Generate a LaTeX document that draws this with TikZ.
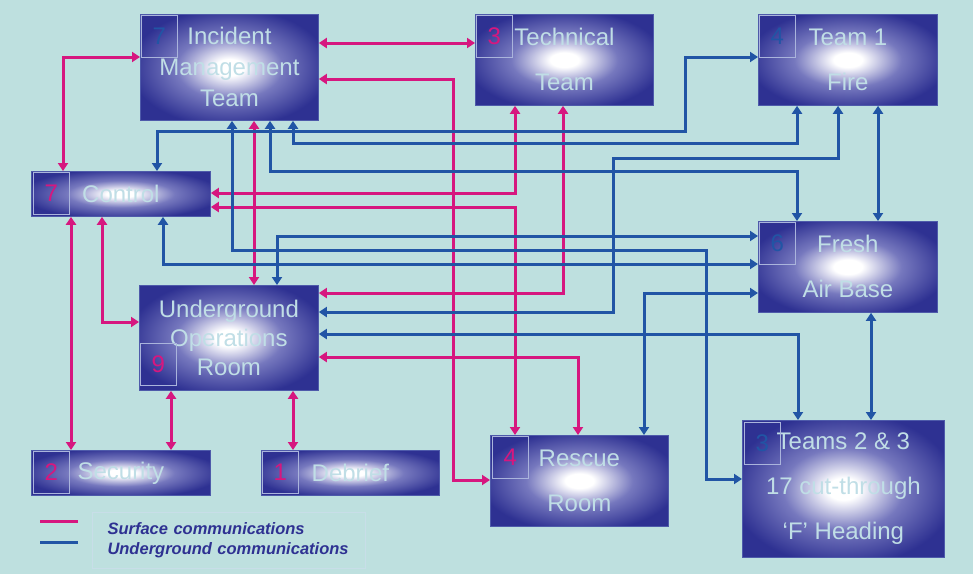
\documentclass[tikz,border=0pt]{standalone}
\usepackage{fontspec}
\setmainfont{Liberation Sans}
\usetikzlibrary{arrows.meta}
\definecolor{sea}{RGB}{190,224,223}
\definecolor{navy}{RGB}{46,49,146}
\definecolor{haze}{RGB}{118,120,190}
\definecolor{pinkline}{RGB}{214,23,127}
\definecolor{blueline}{RGB}{33,85,165}
\definecolor{paletext}{RGB}{192,222,230}
\definecolor{rim}{RGB}{78,90,170}
\definecolor{tagrim}{RGB}{170,180,220}
\definecolor{keyrim}{RGB}{200,222,232}
\pgfdeclareradialshading{glow}{\pgfpoint{0bp}{0bp}}{color(0bp)=(white); color(4bp)=(white); color(15bp)=(haze); color(28bp)=(navy); color(50bp)=(navy)}

\begin{document}
\begin{tikzpicture}[x=1pt, y=-1pt,
  >={Triangle[length=8pt,width=10pt]},
  unit/.style={anchor=north west, shade, shading=glow, draw=rim, line width=0.8pt, inner sep=0pt, align=center, text=paletext, font=\fontsize{24}{45}\selectfont},
  tag/.style={anchor=north west, draw=tagrim, line width=0.8pt, minimum width=36pt, minimum height=42pt, inner sep=0pt, font=\fontsize{24}{24}\selectfont},
  surf/.style={draw=pinkline, line width=3pt, <->},
  under/.style={surf, draw=blueline},
  legendbox/.style={anchor=north west, draw=keyrim, line width=1pt, minimum width=273pt, minimum height=56pt, text width=243pt, inner xsep=15pt, align=left, text=navy, font=\fontsize{16.5}{20}\selectfont\bfseries\itshape}]

\fill[sea] (0,0) rectangle (973,574);
\useasboundingbox (0,0) rectangle (973,574);

\node[unit, minimum width=178pt, minimum height=106pt, font=\fontsize{24}{31}\selectfont] (imt) at (140,14) {Incident\\Management\\Team};
\node[unit, minimum width=178pt, minimum height=91pt] (tech) at (475,14) {Technical\\Team};
\node[unit, minimum width=179pt, minimum height=91pt] (fire) at (758,14) {Team 1\\Fire};
\node[unit, minimum width=179pt, minimum height=45pt] (ctrl) at (31,171) {Control};
\node[unit, minimum width=179pt, minimum height=91pt] (fab) at (758,221) {Fresh\\Air Base};
\node[unit, minimum width=179pt, minimum height=105pt, font=\fontsize{24}{29}\selectfont] (uor) at (139,285) {Underground\\Operations\\Room};
\node[unit, minimum width=179pt, minimum height=45pt] (sec) at (31,450) {Security};
\node[unit, minimum width=178pt, minimum height=45pt] (debrief) at (261,450) {Debrief};
\node[unit, minimum width=178pt, minimum height=91pt] (rescue) at (490,435) {Rescue\\Room};
\node[unit, minimum width=202pt, minimum height=137pt] (teams) at (742,420) {Teams 2 \& 3\\17 cut-through\\‘F’ Heading};

\node[tag, text=blueline] (imtno) at ([shift={(1,1)}]imt.north west) {7};
\node[tag, text=pinkline] (techno) at ([shift={(1,1)}]tech.north west) {3};
\node[tag, text=blueline] (fireno) at ([shift={(1,1)}]fire.north west) {4};
\node[tag, text=pinkline] (ctrlno) at ([shift={(2,1)}]ctrl.north west) {7};
\node[tag, text=blueline] (fabno) at ([shift={(1,1)}]fab.north west) {6};
\node[tag, text=pinkline, anchor=south west] (uorno) at ([shift={(1,-5)}]uor.south west) {9};
\node[tag, text=pinkline] (secno) at ([shift={(2,1)}]sec.north west) {2};
\node[tag, text=pinkline] (debriefno) at ([shift={(1,1)}]debrief.north west) {1};
\node[tag, text=pinkline] (rescueno) at ([shift={(2,1)}]rescue.north west) {4};
\node[tag, text=blueline] (teamsno) at ([shift={(2,2)}]teams.north west) {3};

% surface
\draw[surf] ([shift={(0,29)}]imt.north east) -- ([shift={(0,29)}]tech.north west);
\draw[surf] ([shift={(0,65)}]imt.north east) -| ([shift={(-37,45)}]rescue.north west) -- ([shift={(0,45)}]rescue.north west);
\draw[surf] ([shift={(114,0)}]imt.south west) -- ([shift={(115,0)}]uor.north west);
\draw[surf] ([shift={(32,0)}]ctrl.north west) |- ([shift={(0,43)}]imt.north west);
\draw[surf] ([shift={(40,0)}]ctrl.south west) -- ([shift={(40,0)}]sec.north west);
\draw[surf] ([shift={(71,0)}]ctrl.south west) |- ([shift={(0,37)}]uor.north west);
\draw[surf] ([shift={(32,0)}]uor.south west) -- ([shift={(140,0)}]sec.north west);
\draw[surf] ([shift={(154,0)}]uor.south west) -- ([shift={(32,0)}]debrief.north west);
\draw[surf] ([shift={(0,22)}]ctrl.north east) -| ([shift={(40,0)}]tech.south west);
\draw[surf] ([shift={(0,36)}]ctrl.north east) -| ([shift={(25,0)}]rescue.north west);
\draw[surf] ([shift={(0,8)}]uor.north east) -| ([shift={(88,0)}]tech.south west);
\draw[surf] ([shift={(0,72)}]uor.north east) -| ([shift={(88,0)}]rescue.north west);

% underground
\draw[under] ([shift={(92,0)}]imt.south west) -- ++(0,130) -| ([shift={(-36,59)}]teams.north west) -- ([shift={(0,59)}]teams.north west);
\draw[under] ([shift={(130,0)}]imt.south west) -- ++(0,51) -| ([shift={(39,0)}]fab.north west);
\draw[under] ([shift={(153,0)}]imt.south west) -- ++(0,23) -| ([shift={(39,0)}]fire.south west);
\draw[under] ([shift={(126,0)}]ctrl.north west) -- ++(0,-40) -| ([shift={(-73,43)}]fire.north west) -- ([shift={(0,43)}]fire.north west);
\draw[under] ([shift={(132,0)}]ctrl.south west) |- ([shift={(0,43)}]fab.north west);
\draw[under] ([shift={(138,0)}]uor.north west) |- ([shift={(0,15)}]fab.north west);
\draw[under] ([shift={(0,27)}]uor.north east) -| ([shift={(-145,53)}]fire.south west) -| ([shift={(80,0)}]fire.south west);
\draw[under] ([shift={(120,0)}]fire.south west) -- ([shift={(120,0)}]fab.north west);
\draw[under] ([shift={(113,0)}]fab.south west) -- ([shift={(129,0)}]teams.north west);
\draw[under] ([shift={(0,72)}]fab.north west) -| ([shift={(154,0)}]rescue.north west);
\draw[under] ([shift={(0,49)}]uor.north east) -| ([shift={(56,0)}]teams.north west);

\coordinate (keys) at (40,521);
\coordinate (keyu) at (40,542);
\draw[draw=pinkline, line width=3pt] (keys) -- ++(38,0);
\draw[draw=blueline, line width=3pt] (keyu) -- ++(38,0);
\node[legendbox] (legend) at (92,512) {Surface communications\\Underground communications};
\end{tikzpicture}
\end{document}
